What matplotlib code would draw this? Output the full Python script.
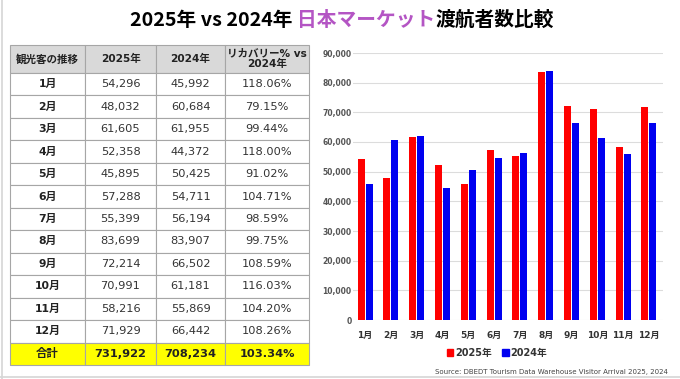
import numpy as np
import matplotlib.pyplot as plt
from matplotlib.patches import Patch
from matplotlib.lines import Line2D
from matplotlib.ticker import FuncFormatter

plt.rcParams['font.family'] = ['DejaVu Sans', 'Noto Sans CJK JP']

months = ['1月', '2月', '3月', '4月', '5月', '6月', '7月', '8月', '9月', '10月', '11月', '12月']
y2025 = [54296, 48032, 61605, 52358, 45895, 57288, 55399, 83699, 72214, 70991, 58216, 71929]
y2024 = [45992, 60684, 61955, 44372, 50425, 54711, 56194, 83907, 66502, 61181, 55869, 66442]
recovery = ['118.06%', '79.15%', '99.44%', '118.00%', '91.02%', '104.71%',
            '98.59%', '99.75%', '108.59%', '116.03%', '104.20%', '108.26%']
total_row = ['合計', '731,922', '708,234', '103.34%']
headers = ['観光客の推移', '2025年', '2024年', 'リカバリー% vs\n2024年']

W, H = 680, 379
fig = plt.figure(figsize=(W / 100, H / 100), dpi=100)
fig.patch.set_facecolor('white')

# slide frame
fig.add_artist(Line2D([2 / W, 2 / W], [0, 1], color='#d6d6d6', lw=1.2))
fig.add_artist(Line2D([0, 1], [1 - 377 / H, 1 - 377 / H], color='#d6d6d6', lw=1.2))

# title in three colored pieces
parts = [('2025年 vs 2024年 ', 'black'), ('日本マーケット', '#b455c4'), ('渡航者数比較', 'black')]
tfont = dict(fontsize=14.2, fontweight='bold', family=['Noto Sans CJK JP', 'DejaVu Sans'])
renderer = fig.canvas.get_renderer()
texts = []
for s, c in parts:
    t = fig.text(0, 1 - 20.5 / H, s, color=c, va='center', ha='left', **tfont)
    texts.append(t)
widths = [t.get_window_extent(renderer).width for t in texts]
x = (W - sum(widths)) / 2 + 2
for t, w in zip(texts, widths):
    t.set_x(x / W)
    x += w

# table
tax = fig.add_axes([10 / W, 1 - 365 / H, 299 / W, 320 / H])
tax.axis('off')
rows = [[m, f'{a:,}', f'{b:,}', r] for m, a, b, r in zip(months, y2025, y2024, recovery)]
rows.append(total_row)
colw = np.array([75, 71, 69, 84], dtype=float)
tbl = tax.table(cellText=rows, colLabels=headers, cellLoc='center',
                colWidths=list(colw / colw.sum()), bbox=[0, 0, 1, 1])
tbl.auto_set_font_size(False)
nrows = len(rows) + 1
for (r, c), cell in tbl.get_celld().items():
    cell.set_edgecolor('#a6a6a6')
    cell.set_linewidth(0.8)
    cell.set_height(28 if r == 0 else 22.5)
    txt = cell.get_text()
    txt.set_fontsize(8.2)
    txt.set_color('#333333')
    if r == 0:
        cell.set_facecolor('#d9d9d9')
        txt.set_fontweight('bold')
        txt.set_fontsize(7.6)
        txt.set_color('#222222')
        txt.set_linespacing(1.0)
    elif r == nrows - 1:
        cell.set_facecolor('#ffff00')
        txt.set_fontweight('bold')
        txt.set_color('#222222')
    else:
        cell.set_facecolor('white')
        if c == 0:
            txt.set_fontweight('bold')
            txt.set_fontsize(7.8)
            txt.set_color('#222222')

# bar chart
ax = fig.add_axes([353 / W, 1 - 320 / H, 310 / W, 267 / H])
xs = np.arange(len(months))
bw = 0.27
ax.bar(xs - 0.155, y2025, bw, color='#ff0000', zorder=3)
ax.bar(xs + 0.155, y2024, bw, color='#0000f0', zorder=3)
ax.set_xlim(-0.47, 11.55)
ax.set_ylim(0, 90000)
ax.set_yticks(np.arange(0, 90001, 10000))
ax.yaxis.set_major_formatter(FuncFormatter(lambda v, p: f'{int(v):,}'))
ax.grid(axis='y', color='#dcdcdc', lw=0.8, zorder=0)
for s in ax.spines.values():
    s.set_visible(False)
ax.tick_params(length=0)
ax.tick_params(axis='y', labelsize=5.5, labelcolor='#555555', pad=1)
ax.tick_params(axis='x', labelsize=6.5, labelcolor='#333333', pad=8)
ax.set_xticks(xs)
ax.set_xticklabels(months, fontweight='bold')
for lab in ax.get_yticklabels():
    lab.set_fontweight('bold')

handles = [Patch(color='#ff0000', label='2025年'), Patch(color='#0000f0', label='2024年')]
fig.legend(handles=handles, loc='center', bbox_to_anchor=(497 / W, 1 - 353 / H), ncol=2,
           frameon=False, prop=dict(size=7, weight='bold'), handlelength=0.7,
           handleheight=0.7, handletextpad=0.2, columnspacing=1.0, labelcolor='#333333')

fig.text(668 / W, 1 - 372 / H,
         'Source: DBEDT Tourism Data Warehouse Visitor Arrival 2025, 2024',
         ha='right', va='center', fontsize=5, color='#444444')

fig.savefig('out.png', dpi=100)
